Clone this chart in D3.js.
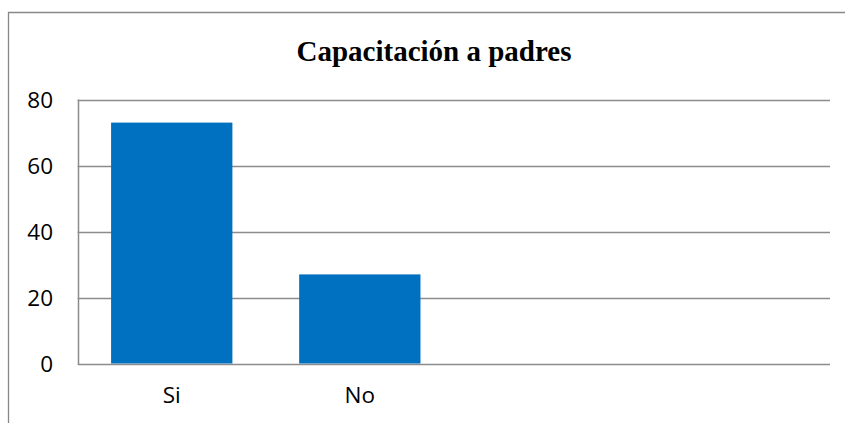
<!DOCTYPE html>
<html><head><meta charset="utf-8">
<script src="https://cdn.jsdelivr.net/npm/d3@7"></script>
<style>body{margin:0;background:#fff}svg{display:block}</style>
</head><body>
<svg id="c" width="845" height="423"></svg>
<script>
const title = "Capacitación a padres";
const categories = ["Si", "No", "", ""];
const values = [73, 27, null, null];
const yTicks = [0, 20, 40, 60, 80];

const svg = d3.select("#c");
const W = 845, H = 423;
const plot = {left: 77.7, right: 830, top: 99.5, bottom: 363.5};

// outer chart frame (cropped on right and bottom)
svg.append("path")
  .attr("d", `M8.5,${H} L8.5,12.5 L${W},12.5`)
  .attr("fill", "none").attr("stroke", "#888").attr("stroke-width", 1.3);

svg.append("text")
  .attr("x", 434).attr("y", 61)
  .attr("text-anchor", "middle")
  .attr("font-family", "'Liberation Serif', 'Times New Roman', serif")
  .attr("font-weight", "bold").attr("font-size", 29)
  .attr("fill", "#000")
  .text(title);

const x = d3.scaleBand().domain(d3.range(categories.length))
  .range([plot.left, plot.right]).paddingInner(0.355).paddingOuter(0.1775);
const y = d3.scaleLinear().domain([0, 80]).range([plot.bottom, plot.top]);

// gridlines
svg.append("g").selectAll("line").data(yTicks).join("line")
  .attr("x1", plot.left).attr("x2", plot.right)
  .attr("y1", d => Math.round(y(d)) + 0.5).attr("y2", d => Math.round(y(d)) + 0.5)
  .attr("stroke", "#8c8c8c").attr("stroke-width", 1.5);

// y axis line
svg.append("line")
  .attr("x1", Math.round(plot.left) + 0.5).attr("x2", Math.round(plot.left) + 0.5)
  .attr("y1", plot.top).attr("y2", plot.bottom + 0.5)
  .attr("stroke", "#8c8c8c").attr("stroke-width", 1.5);

// bars
svg.append("g").selectAll("rect").data(values.map((v, i) => ({v, i})).filter(d => d.v != null))
  .join("rect")
  .attr("x", d => x(d.i)).attr("width", x.bandwidth())
  .attr("y", d => y(d.v)).attr("height", d => y(0) - y(d.v))
  .attr("fill", "#0070C0");

// y tick labels
const yAxis = d3.axisLeft(y).tickValues(yTicks).tickSize(0).tickPadding(0);
const ga = svg.append("g").attr("transform", `translate(53,0)`).call(yAxis);
ga.select(".domain").remove();
ga.selectAll("text")
  .attr("font-family", "'Open Sans', 'Noto Sans', sans-serif")
  .attr("font-size", 22.5).attr("fill", "#000").attr("dy", "0.36em");

// x labels
const xAxis = d3.axisBottom(x).tickFormat(i => categories[i]).tickSize(0).tickPadding(0);
const gx = svg.append("g").attr("transform", `translate(0,${plot.bottom})`).call(xAxis);
gx.select(".domain").remove();
gx.selectAll("text")
  .attr("font-family", "'Open Sans', 'Noto Sans', sans-serif")
  .attr("font-size", 22.5).attr("fill", "#000").attr("y", 0).attr("dy", "1.75em");
</script>
</body></html>
